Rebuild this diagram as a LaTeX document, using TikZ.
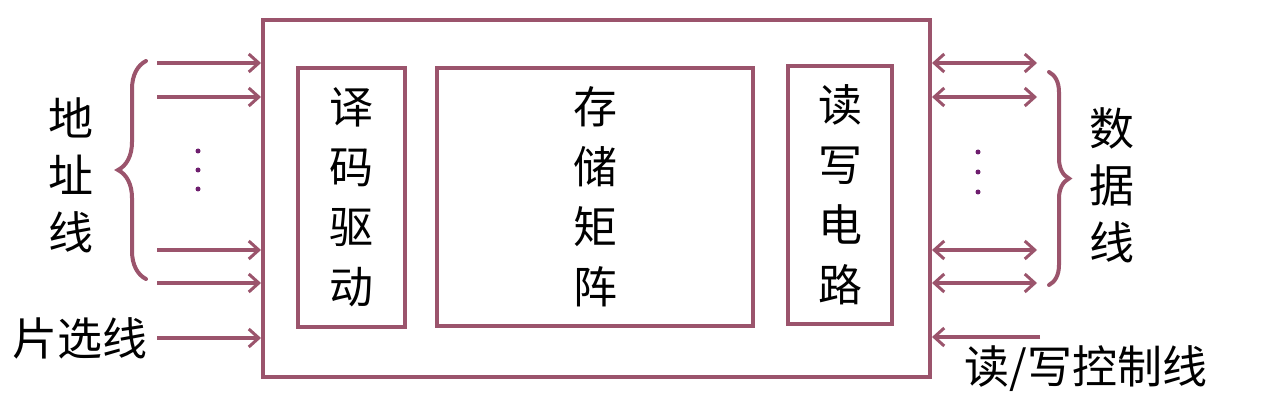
\documentclass[tikz,border=0pt]{standalone}
\usepackage{fontspec}
\newfontfamily\cjk{Noto Sans CJK SC}
\usetikzlibrary{arrows.meta,decorations.pathreplacing}
\definecolor{mauve}{RGB}{155,84,108}
\definecolor{dotc}{RGB}{110,30,110}
\begin{document}
\begin{tikzpicture}[x=1pt,y=-1pt,
  box/.style={draw=mauve,line width=4pt,inner sep=0pt,align=center,
    font=\cjk\fontsize{44}{60}\selectfont},
  lbl/.style={font=\cjk\fontsize{45}{57}\selectfont,align=center,inner sep=0pt,text=black},
  sig/.style={draw=mauve,line width=4pt,-{Straight Barb[length=10pt,width=18pt,line width=3pt]}},
  bidir/.style={draw=mauve,line width=4pt,{Straight Barb[length=10pt,width=18pt,line width=3pt]}-{Straight Barb[length=10pt,width=18pt,line width=3pt]}},
  dotm/.style={circle,fill=dotc,inner sep=0pt,minimum size=5pt},
  brc/.style={draw=mauve,line width=4pt,line cap=round,decorate}
]
\useasboundingbox (0,0) rectangle (1262,401);
\fill[white] (0,0) rectangle (1262,401);

% chip and blocks
\node[box,minimum width=667pt,minimum height=357pt] (chip) at (596.5,198.5) {};
\node[box,minimum width=107pt,minimum height=259pt] (dec) at (351.5,197.5) {译\\码\\驱\\动};
\node[box,minimum width=316pt,minimum height=258pt] (mem) at (595,197) {存\\储\\矩\\阵};
\node[box,minimum width=104pt,minimum height=258pt] (rw) at (840,195) {读\\写\\电\\路};

% address lines
\coordinate (a1) at (157,63);
\coordinate (a2) at (157,97);
\coordinate (a3) at (157,250);
\coordinate (a4) at (157,283);
\coordinate (cs) at (157,338);
\foreach \c in {a1,a2,a3,a4,cs}
  \draw[sig] (\c) -- (\c -| chip.west);

% data lines
\coordinate (d1) at (1037,63);
\coordinate (d2) at (1037,97);
\coordinate (d3) at (1037,250);
\coordinate (d4) at (1037,283);
\foreach \c in {d1,d2,d3,d4}
  \draw[bidir] (\c -| chip.east) -- (\c);

% read/write control
\coordinate (wr) at (1040,337);
\draw[sig] (wr) -- (wr -| chip.east);

% dots
\node[dotm] (l1) at (198,151) {};
\node[dotm] (l2) at (198,170) {};
\node[dotm] (l3) at (198,189) {};
\node[dotm] (r1) at (978,152) {};
\node[dotm] (r2) at (978,172) {};
\node[dotm] (r3) at (978,192) {};

% braces
\coordinate (lb1) at (146,279);
\coordinate (lb2) at (146,61);
\draw[brc,decoration={brace,amplitude=28pt}] (lb1) -- (lb2);
\coordinate (rb1) at (1049,72);
\coordinate (rb2) at (1049,285);
\draw[brc,decoration={brace,amplitude=20pt}] (rb1) -- (rb2);

% labels
\node[lbl] (addr) at (71,175) {地\\址\\线};
\node[lbl] (csl) at (80,338) {片选线};
\node[lbl] (data) at (1112,185) {数\\据\\线};
\node[lbl] (wrl) at (1086,369) {读/写控制线};
\end{tikzpicture}
\end{document}
